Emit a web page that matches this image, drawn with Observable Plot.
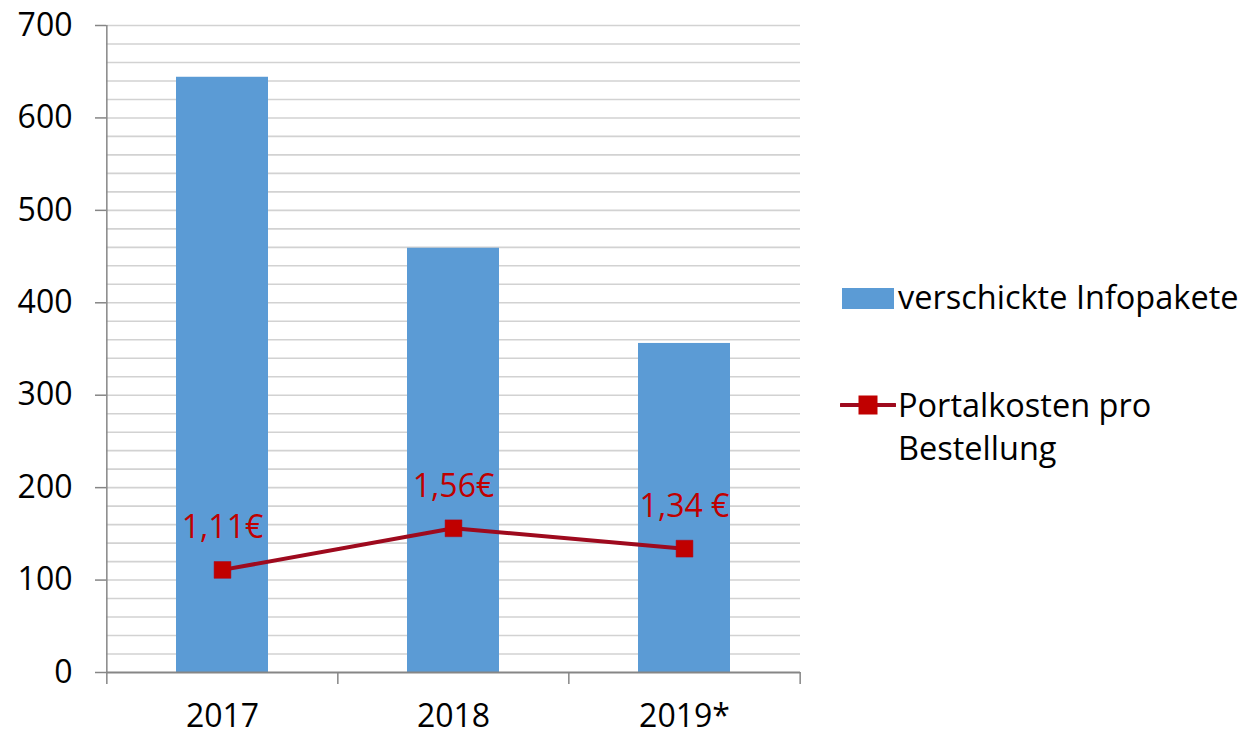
<!DOCTYPE html>
<html><head><meta charset="utf-8">
<script src="https://cdn.jsdelivr.net/npm/d3@7"></script>
<script src="https://cdn.jsdelivr.net/npm/@observablehq/plot@0.6"></script>
<style>
body{margin:0;background:#fff;font-family:"Open Sans",sans-serif;overflow:hidden}
#wrap{position:relative;width:1247px;height:739px}
#chart{position:absolute;left:0;top:0}
.lg{position:absolute;font-size:32.5px;color:#000;white-space:nowrap}
</style></head><body>
<div id="wrap"><div id="chart"></div><div id="legend"></div></div>
<script>
const years = ["2017", "2018", "2019*"];
const infopakete = [644, 459, 356];
const portalkosten = [111, 156, 134]; // € pro Bestellung × 100
const kostenLabels = ["1,11€", "1,56€", "1,34 €"];
const yTicks = [0, 100, 200, 300, 400, 500, 600, 700];
const gridValues = d3.range(20, 701, 20);
const seriesNames = ["verschickte Infopakete", "Portalkosten pro Bestellung"];

const barColor = "#5B9BD5";
const lineColor = "#9E0A1E";
const markerColor = "#C00000";
const axisColor = "#868686";
const FS = 32;

const W = 830, ML = 106, MR = 30;
const step = (W - ML - MR) / years.length;

const bars = years.map((y, i) => ({year: y, value: infopakete[i]}));
const pts = years.map((y, i) => ({year: y, value: portalkosten[i], label: kostenLabels[i]}));
const edges = years.map(y => ({year: y, first: y === years[0]}));

const chart = Plot.plot({
  width: W, height: 739,
  marginLeft: ML, marginRight: MR, marginTop: 25, marginBottom: 67,
  style: {fontFamily: "'Open Sans', sans-serif", fontSize: FS + "px", color: "#000", background: "#fff"},
  x: {domain: years, paddingInner: 0.6, paddingOuter: 0.3, label: null},
  y: {domain: [0, 700], label: null},
  marks: [
    Plot.ruleY(gridValues, {stroke: "#d2d2d2", strokeWidth: 1.6}),
    Plot.barY(bars, {x: "year", y: "value", fill: barColor}),
    Plot.ruleY([0], {stroke: axisColor, strokeWidth: 2}),
    Plot.ruleX(edges, {x: "year", dx: -step / 2, y1: -13, y2: d => d.first ? 700 : 0, stroke: axisColor, strokeWidth: 1.5}),
    Plot.ruleX([years[years.length - 1]], {dx: step / 2, y1: -13, y2: 0, stroke: axisColor, strokeWidth: 1.5}),
    Plot.axisY(yTicks, {tickSize: 11, tickPadding: 23, stroke: axisColor, strokeWidth: 1.5, fill: "#000", fontSize: FS}),
    Plot.axisX({tickSize: 0, tickPadding: 32, fill: "#000", fontSize: FS}),
    Plot.line(pts, {x: "year", y: "value", stroke: lineColor, strokeWidth: 4}),
    Plot.dot(pts, {x: "year", y: "value", symbol: "square", r: 9.5, fill: markerColor, stroke: "#b0001a", strokeWidth: 0.5}),
    Plot.text(pts, {x: "year", y: "value", text: "label", dy: -42, fill: markerColor, fontSize: FS, lineAnchor: "middle"})
  ]
});
document.getElementById("chart").appendChild(chart);

const lg = d3.select("#legend");
lg.append("div").style("position", "absolute").style("left", "842px").style("top", "288px")
  .style("width", "52px").style("height", "21px").style("background", barColor);
lg.append("div").attr("class", "lg").style("left", "898px").style("top", "276px").style("line-height", "42px")
  .text(seriesNames[0]);
const s = lg.append("svg").style("position", "absolute").style("left", "840px").style("top", "393px")
  .attr("width", 56).attr("height", 24);
s.append("line").attr("x1", 1).attr("x2", 55).attr("y1", 12).attr("y2", 12)
  .attr("stroke", lineColor).attr("stroke-width", 4).attr("stroke-linecap", "round");
s.append("rect").attr("x", 18.5).attr("y", 2.5).attr("width", 19).attr("height", 19).attr("fill", markerColor);
lg.append("div").attr("class", "lg").style("left", "898px").style("top", "383px").style("line-height", "43px")
  .html("Portalkosten pro<br>Bestellung");
</script>
</body></html>
